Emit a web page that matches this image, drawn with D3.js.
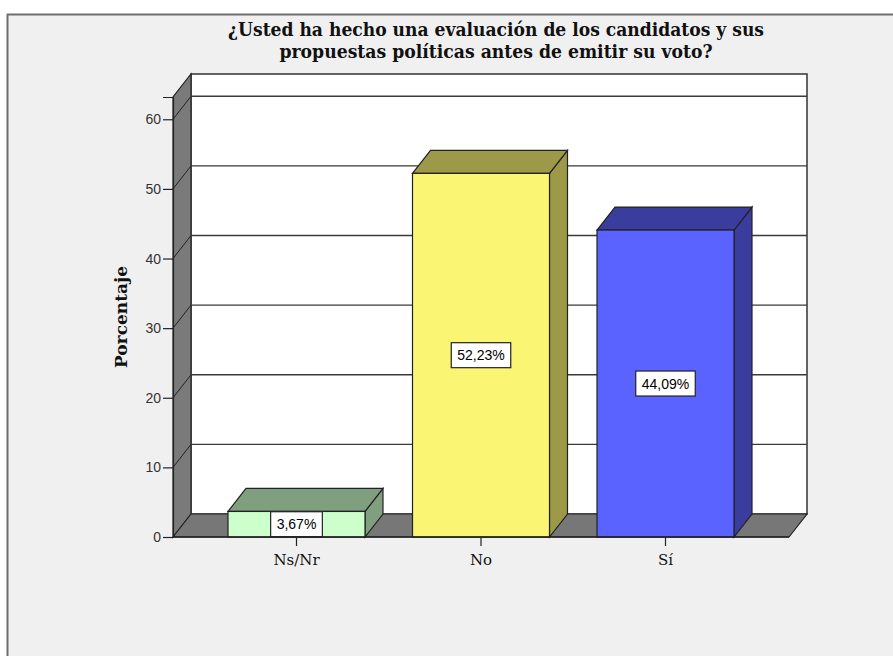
<!DOCTYPE html>
<html>
<head>
<meta charset="utf-8">
<script src="https://cdn.jsdelivr.net/npm/d3@7"></script>
<style>
  html, body { margin: 0; padding: 0; background: #ffffff; }
  svg { display: block; }
</style>
</head>
<body>
<svg id="chart" width="893" height="656"></svg>
<script>
// ---- data ----
const categories = ["Ns/Nr", "No", "Sí"];
const percentages = [3.67, 52.23, 44.09];
const valueLabels = ["3,67%", "52,23%", "44,09%"];
const yTicks = [0, 10, 20, 30, 40, 50, 60];
const titleLines = ["¿Usted ha hecho una evaluación de los candidatos y sus",
                    "propuestas políticas antes de emitir su voto?"];
const yAxisTitle = "Porcentaje";
const frontColors = ["#ccffcc", "#faf572", "#5a62ff"];
const sideColors  = ["#7f9f7f", "#9c9a48", "#3a3c9e"];

// ---- layout ----
const svg = d3.select("#chart");
const W = 893, H = 656;
const DX = 18, DY = 23;          // 3D depth offset
const axisX = 173, axisRight = 789;

const y = d3.scaleLinear().domain([0, 63.2]).range([537, 97]);
const x = d3.scaleBand().domain(categories).range([228, 734])
            .paddingInner(0.2575).paddingOuter(0);

// frame background
svg.append("rect").attr("x", 0).attr("y", 0).attr("width", W).attr("height", H).attr("fill", "#ffffff");
svg.append("rect").attr("x", 7).attr("y", 14).attr("width", W - 7).attr("height", H - 14).attr("fill", "#f0f0f0");
svg.append("line").attr("x1", 7).attr("x2", W).attr("y1", 14.5).attr("y2", 14.5)
   .attr("stroke", "#6e6e6e").attr("stroke-width", 2);
svg.append("line").attr("x1", 7.5).attr("x2", 7.5).attr("y1", 14).attr("y2", H)
   .attr("stroke", "#6e6e6e").attr("stroke-width", 2);

// title
svg.append("g").selectAll("text").data(titleLines).join("text")
  .attr("x", 496).attr("y", (d, i) => 36 + i * 22)
  .attr("text-anchor", "middle")
  .attr("font-family", "DejaVu Serif").attr("font-weight", "bold").attr("font-size", 18)
  .attr("textLength", (d, i) => i === 0 ? 536 : 433)
  .attr("lengthAdjust", "spacingAndGlyphs")
  .attr("fill", "#111")
  .text(d => d);

const y0 = y(0), yTop = y.range()[1];

// back wall
svg.append("rect")
  .attr("x", axisX + DX).attr("y", yTop - DY)
  .attr("width", axisRight - axisX).attr("height", y0 - yTop)
  .attr("fill", "#ffffff").attr("stroke", "#333").attr("stroke-width", 1.5);

// left wall
svg.append("path")
  .attr("d", `M${axisX},${y0} L${axisX},${yTop} L${axisX + DX},${yTop - DY} L${axisX + DX},${y0 - DY} Z`)
  .attr("fill", "#7a7a7a").attr("stroke", "#222").attr("stroke-width", 1.2);

// floor
svg.append("path")
  .attr("d", `M${axisX},${y0} L${axisX + DX},${y0 - DY} L${axisRight + DX},${y0 - DY} L${axisRight},${y0} Z`)
  .attr("fill", "#777777").attr("stroke", "#222").attr("stroke-width", 1.2);

// gridlines (back wall + left wall)
const grid = svg.append("g");
yTicks.filter(t => t > 0).forEach(t => {
  grid.append("line")
    .attr("x1", axisX + DX).attr("x2", axisRight + DX)
    .attr("y1", y(t) - DY).attr("y2", y(t) - DY)
    .attr("stroke", "#3a3a3a").attr("stroke-width", 1.4);
  grid.append("line")
    .attr("x1", axisX).attr("x2", axisX + DX)
    .attr("y1", y(t)).attr("y2", y(t) - DY)
    .attr("stroke", "#222").attr("stroke-width", 1);
});

// bars
const bars = svg.append("g").selectAll("g").data(categories).join("g");
bars.each(function(c, i) {
  const g = d3.select(this);
  const x0 = x(c), x1 = x(c) + x.bandwidth();
  const yt = y(percentages[i]);
  // side
  g.append("path")
    .attr("d", `M${x1},${yt} L${x1 + DX},${yt - DY} L${x1 + DX},${y0 - DY} L${x1},${y0} Z`)
    .attr("fill", sideColors[i]).attr("stroke", "#222").attr("stroke-width", 1.2);
  // top
  g.append("path")
    .attr("d", `M${x0},${yt} L${x0 + DX},${yt - DY} L${x1 + DX},${yt - DY} L${x1},${yt} Z`)
    .attr("fill", sideColors[i]).attr("stroke", "#222").attr("stroke-width", 1.2);
  // front
  g.append("rect")
    .attr("x", x0).attr("y", yt).attr("width", x1 - x0).attr("height", y0 - yt)
    .attr("fill", frontColors[i]).attr("stroke", "#222").attr("stroke-width", 1.2);
  // label box
  const cx = (x0 + x1) / 2, cy = (yt + y0) / 2;
  const txt = g.append("text")
    .attr("x", cx).attr("y", cy + 5)
    .attr("text-anchor", "middle")
    .attr("font-family", "Liberation Sans, Arial, sans-serif").attr("font-size", 14)
    .attr("fill", "#000")
    .text(valueLabels[i]);
  const w = txt.node().getComputedTextLength() + 12;
  const h = Math.min(25, y0 - yt);
  g.insert("rect", "text")
    .attr("x", cx - w / 2).attr("y", cy - h / 2).attr("width", w).attr("height", h)
    .attr("fill", "#ffffff").attr("stroke", "#222").attr("stroke-width", 1.2);
});

// y axis
const yAxis = d3.axisLeft(y).tickValues(yTicks).tickSize(10).tickPadding(2).tickFormat(d3.format("d"));
const ya = svg.append("g").attr("transform", `translate(${axisX},0)`).call(yAxis);
ya.select(".domain").attr("stroke", "#222").attr("stroke-width", 1.2);
ya.selectAll(".tick line").attr("stroke", "#222").attr("stroke-width", 1.2);
ya.selectAll(".tick text").attr("font-family", "Liberation Sans, Arial, sans-serif")
  .attr("font-size", 14).attr("fill", "#333");

// x axis
const xAxis = d3.axisBottom(x).tickSize(9).tickPadding(8);
const xa = svg.append("g").attr("transform", `translate(0,${y0})`).call(xAxis);
xa.select(".domain").remove();
xa.append("line").attr("x1", axisX).attr("x2", axisRight).attr("y1", 0).attr("y2", 0)
  .attr("stroke", "#222").attr("stroke-width", 1.5);
xa.selectAll(".tick line").attr("stroke", "#222").attr("stroke-width", 1.2);
xa.selectAll(".tick text").attr("font-family", "DejaVu Serif")
  .attr("font-size", 15).attr("fill", "#111");

// y axis title
svg.append("text")
  .attr("transform", `translate(127,317) rotate(-90)`)
  .attr("text-anchor", "middle")
  .attr("font-family", "DejaVu Serif").attr("font-weight", "bold").attr("font-size", 17)
  .attr("fill", "#111")
  .text(yAxisTitle);
</script>
</body>
</html>
